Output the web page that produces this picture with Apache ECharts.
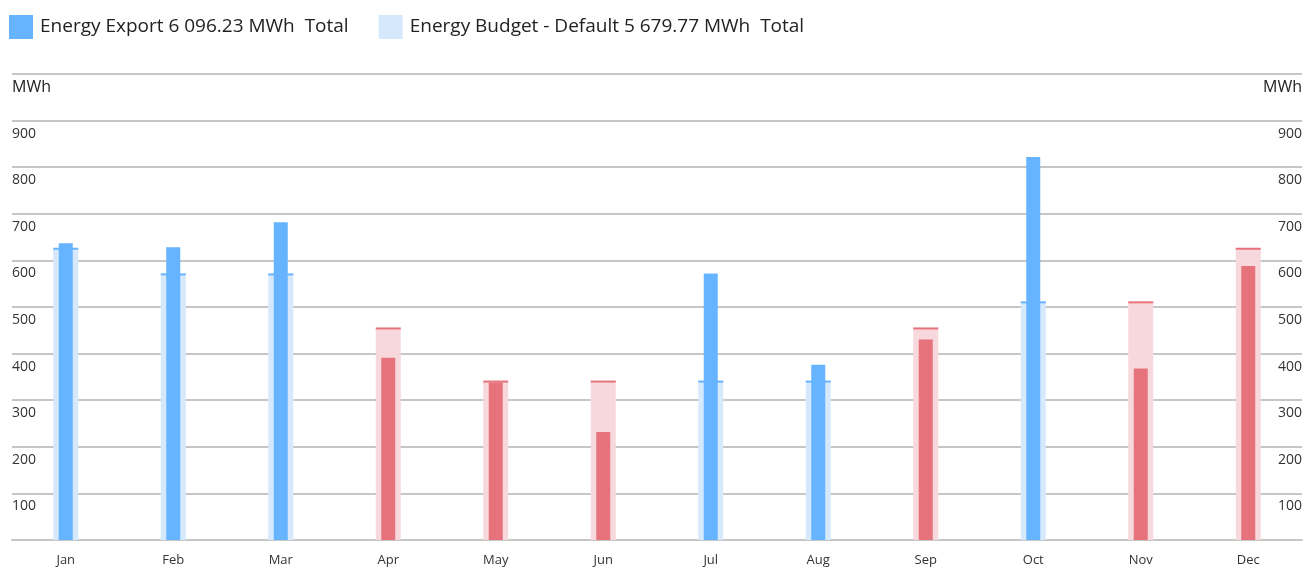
<!DOCTYPE html>
<html>
<head>
<meta charset="utf-8">
<script src="https://cdn.jsdelivr.net/npm/echarts@6/dist/echarts.min.js"></script>
<style>
  html, body { margin: 0; padding: 0; background: #fff; }
  #chart { width: 1305px; height: 568px; }
</style>
</head>
<body>
<div id="chart"></div>
<script>
// monthly energy export vs budget
var months = ['Jan', 'Feb', 'Mar', 'Apr', 'May', 'Jun', 'Jul', 'Aug', 'Sep', 'Oct', 'Nov', 'Dec'];
var exportVals = [637, 628, 682, 391, 338, 232, 572, 376, 430, 822, 368, 588];
var budgetVals = [625, 570, 570, 454, 340, 340, 340, 340, 454, 510, 510, 625];
var exportName = 'Energy Export 6 096.23 MWh  Total';
var budgetName = 'Energy Budget - Default 5 679.77 MWh  Total';

var BLUE = '#66b3ff', LIGHT_BLUE = '#d6e9fc', RED = '#e6727b', PINK = '#f7d9dd';

function over(i) { return exportVals[i] >= budgetVals[i]; }

var budgetData = budgetVals.map(function(v, i) {
  return { value: v, itemStyle: { color: over(i) ? LIGHT_BLUE : PINK } };
});
var markerData = budgetVals.map(function(v, i) {
  return { value: v, itemStyle: { color: over(i) ? BLUE : RED } };
});
var exportData = exportVals.map(function(v, i) {
  return { value: v, itemStyle: { color: over(i) ? BLUE : RED } };
});

var font = '"Open Sans", "Noto Sans", sans-serif';
var gridLine = { color: '#c6c6c6', width: 2 };

function yLabel(v) {
  if (v === 1000) return '{u|MWh}';
  if (v === 0) return '';
  return v;
}

var yLabelStyle = {
  inside: true, margin: 0, verticalAlign: 'top', padding: [6, 0, 0, 0],
  fontSize: 14, color: '#333', fontFamily: font,
  showMaxLabel: true, formatter: yLabel,
  rich: { u: { fontSize: 16, color: '#222', fontFamily: font, padding: [-1, 0, 0, 0] } }
};

var option = {
  animation: false,
  textStyle: { fontFamily: font },
  legend: {
    left: 4,
    top: 10,
    itemWidth: 24,
    itemHeight: 24,
    itemGap: 30,
    icon: 'rect',
    textStyle: { fontSize: 19, color: '#222', fontFamily: font, padding: [0, 0, 0, 2] },
    data: [exportName, budgetName]
  },
  grid: { left: 12, right: 2, top: 74, bottom: 28 },
  xAxis: [{
    type: 'category',
    data: months,
    axisLine: { lineStyle: gridLine },
    axisTick: { show: false },
    axisLabel: { fontSize: 13, color: '#333', margin: 14, fontFamily: font }
  }, {
    type: 'category',
    data: months,
    show: false
  }],
  yAxis: [{
    type: 'value',
    position: 'left',
    min: 0,
    max: 1000,
    interval: 100,
    splitLine: { lineStyle: gridLine },
    axisLine: { show: false },
    axisTick: { show: false },
    axisLabel: yLabelStyle
  }, {
    type: 'value',
    position: 'right',
    min: 0,
    max: 1000,
    interval: 100,
    splitLine: { show: false },
    axisLine: { show: false },
    axisTick: { show: false },
    axisLabel: yLabelStyle
  }],
  series: [{
    name: budgetName,
    type: 'bar',
    xAxisIndex: 0,
    barWidth: 25,
    z: 1,
    itemStyle: { color: LIGHT_BLUE },
    data: budgetData
  }, {
    name: 'budgetMarker',
    type: 'pictorialBar',
    xAxisIndex: 0,
    symbol: 'rect',
    symbolSize: [25, 2],
    symbolPosition: 'end',
    symbolOffset: [0, '-50%'],
    z: 2,
    data: markerData
  }, {
    name: exportName,
    type: 'bar',
    xAxisIndex: 1,
    barWidth: 14,
    z: 3,
    itemStyle: { color: BLUE },
    data: exportData
  }]
};

var chart = echarts.init(document.getElementById('chart'));
chart.setOption(option);
</script>
</body>
</html>
